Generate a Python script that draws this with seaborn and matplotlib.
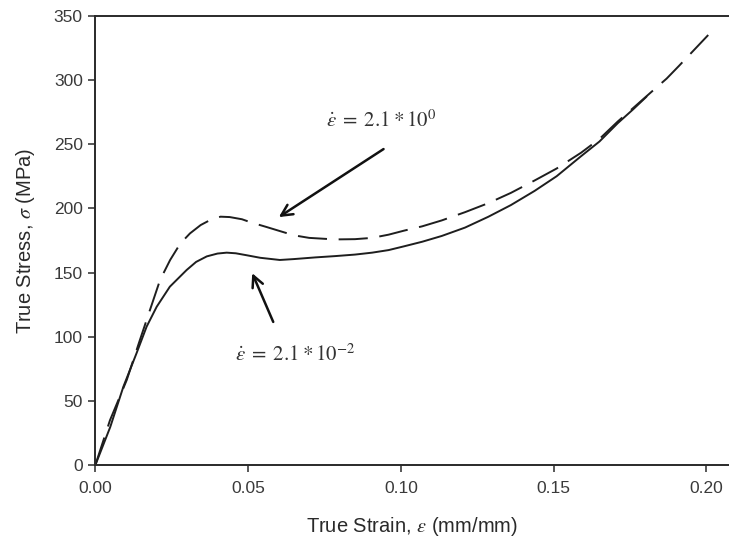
import matplotlib
matplotlib.use("Agg")
import matplotlib.pyplot as plt
import seaborn as sns
import pandas as pd

# Strain rate 2.1e0 (dashed)
strain_fast = [0.0, 0.0048, 0.0103, 0.0146, 0.0179, 0.0212, 0.0245, 0.0278, 0.0310, 0.0345,
               0.0376, 0.0410, 0.0440, 0.0480, 0.0510, 0.0560, 0.0600, 0.0650, 0.0700, 0.0784,
               0.0850, 0.0906, 0.0960, 0.1010, 0.1070, 0.1134, 0.1210, 0.1286, 0.1360,
               0.1438, 0.1510, 0.1590, 0.1650, 0.1710, 0.1760, 0.1820, 0.1870, 0.1910, 0.2006]
stress_fast = [0.0, 35.0, 66.4, 97.5, 120.9, 144.2, 159.8, 172.5, 180.5, 187.0,
               190.9, 193.5, 193.2, 191.5, 189.0, 185.5, 182.6, 179.0, 177.0, 175.8,
               176.0, 177.0, 179.5, 182.6, 186.0, 190.6, 197.0, 204.0, 212.0,
               221.7, 231.0, 243.3, 254.0, 267.6, 278.0, 290.6, 301.0, 310.8, 334.9]

# Strain rate 2.1e-2 (solid)
strain_slow = [0.0, 0.0049, 0.0092, 0.0135, 0.0168, 0.0201, 0.0244, 0.0299, 0.0330, 0.0365,
               0.0400, 0.0430, 0.0460, 0.0495, 0.0540, 0.0604, 0.0650, 0.0720, 0.0784, 0.0850,
               0.0906, 0.0960, 0.1010, 0.1070, 0.1134, 0.1210, 0.1286, 0.1360, 0.1438,
               0.1510, 0.1590, 0.1650, 0.1710, 0.1760, 0.1804]
stress_slow = [0.0, 29.8, 61.2, 87.2, 107.9, 123.4, 139.0, 152.0, 158.3, 162.6,
               164.8, 165.5, 165.0, 163.5, 161.5, 159.8, 160.5, 161.8, 162.8, 164.0,
               165.5, 167.5, 170.4, 174.0, 178.5, 185.0, 193.4, 202.5, 213.6,
               225.0, 240.6, 252.0, 266.3, 277.0, 286.9]

label_fast = r"$\dot{\varepsilon}\;=\;2.1 * 10^{0}$"
label_slow = r"$\dot{\varepsilon}\;=\;2.1 * 10^{-2}$"

df = pd.concat([
    pd.DataFrame({"strain": strain_fast, "stress": stress_fast, "rate": "fast"}),
    pd.DataFrame({"strain": strain_slow, "stress": stress_slow, "rate": "slow"}),
], ignore_index=True)

sns.set_theme(style="white")
plt.rcParams["font.family"] = ["Liberation Sans", "DejaVu Sans"]
plt.rcParams["mathtext.fontset"] = "stix"

fig = plt.figure(figsize=(7.29, 5.44), dpi=100)
ax = fig.add_axes([0.1307, 0.1447, 0.8693, 0.8266])

sns.lineplot(data=df, x="strain", y="stress", style="rate", sort=False,
             dashes={"fast": (15, 6), "slow": ""}, color="#1e1e1e",
             linewidth=1.4, legend=False, ax=ax, estimator=None)

ax.set_xlim(0, 0.2074)
ax.set_ylim(0, 350)
ax.set_xticks([0.0, 0.05, 0.10, 0.15, 0.20])
ax.set_xticklabels(["0.00", "0.05", "0.10", "0.15", "0.20"])
ax.set_yticks(range(0, 351, 50))

for s in ["left", "bottom", "top"]:
    ax.spines[s].set_visible(True)
    ax.spines[s].set_color("#2a2a2a")
    ax.spines[s].set_linewidth(1.4)
ax.spines["right"].set_visible(False)

ax.tick_params(axis="both", which="both", direction="out", length=5, width=1.1,
               color="#2a2a2a", labelsize=12.5, labelcolor="#3a3a3a",
               bottom=True, left=True, top=False, right=False)
ax.tick_params(axis="x", pad=6)
ax.tick_params(axis="y", pad=4)

ax.set_xlabel("True Strain, $\\varepsilon$ (mm/mm)", fontsize=14.5, color="#2a2a2a", labelpad=14)
ax.set_ylabel("True Stress, $\\sigma$ (MPa)", fontsize=14.5, color="#2a2a2a", labelpad=12)

ax.annotate("", xy=(0.0593, 192), xytext=(0.0951, 247.3),
            arrowprops=dict(arrowstyle="->", color="#111111", lw=1.8, mutation_scale=20))
ax.annotate("", xy=(0.0510, 151.5), xytext=(0.0586, 109.6),
            arrowprops=dict(arrowstyle="->", color="#111111", lw=1.8, mutation_scale=20))

ax.text(0.0935, 268.9, label_fast, ha="center", va="center", fontsize=15, color="#333333")
ax.text(0.0654, 86.7, label_slow, ha="center", va="center", fontsize=15, color="#333333")

fig.savefig("out.png", dpi=100)
